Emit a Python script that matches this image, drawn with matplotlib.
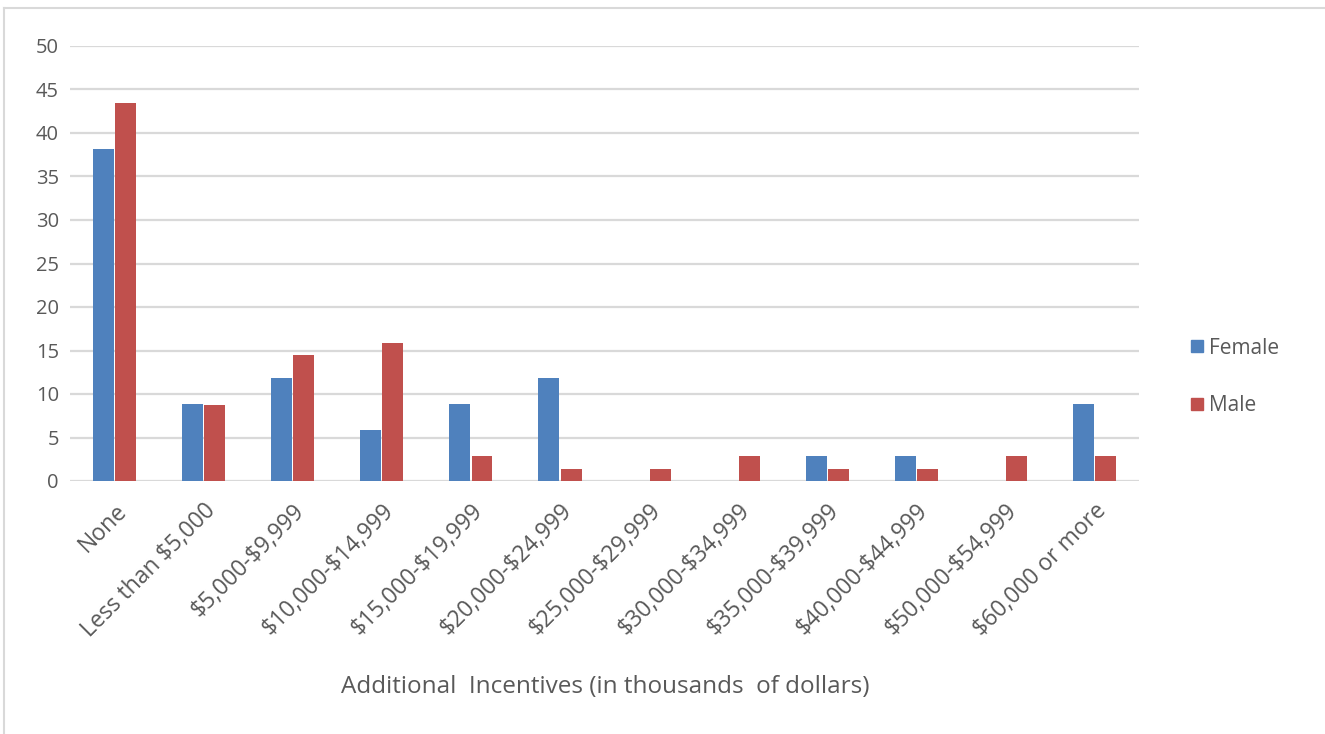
import matplotlib
matplotlib.use("Agg")
import matplotlib.pyplot as plt
import numpy as np
from matplotlib.lines import Line2D

categories = ["None", "Less than $5,000", "$5,000-$9,999", "$10,000-$14,999",
              "$15,000-$19,999", "$20,000-$24,999", "$25,000-$29,999",
              "$30,000-$34,999", "$35,000-$39,999", "$40,000-$44,999",
              "$50,000-$54,999", "$60,000 or more"]
female = [38.2, 8.8, 11.8, 5.9, 8.8, 11.8, 0, 0, 2.9, 2.9, 0, 8.8]
male = [43.5, 8.7, 14.5, 15.9, 2.9, 1.4, 1.4, 2.9, 1.4, 1.4, 2.9, 2.9]
yticks = [0, 5, 10, 15, 20, 25, 30, 35, 40, 45, 50]
xlabel = "Additional  Incentives (in thousands  of dollars)"

plt.rcParams['font.family'] = ['Open Sans', 'DejaVu Sans']
plt.rcParams['text.parse_math'] = False
txt = '#595959'
blue = '#4F81BD'
red = '#C0504D'

W, H = 1325, 734
fig = plt.figure(figsize=(W/100, H/100), dpi=100)
ax = fig.add_axes([70/W, 1-481/H, (1139-70)/W, (481-46)/H])

x = np.arange(len(categories))
bw = 0.235
ax.bar(x - 0.125, female, bw, color=blue, label='Female', zorder=3)
ax.bar(x + 0.125, male, bw, color=red, label='Male', zorder=3)

ax.set_xlim(-0.5, len(categories) - 0.5)
ax.set_ylim(0, 50)
ax.set_yticks(yticks)
ax.set_yticklabels([str(v) for v in yticks], fontsize=14.5, color=txt)
ax.yaxis.grid(True, color='#D9D9D9', linewidth=1.6, zorder=0)
ax.set_axisbelow(True)
ax.tick_params(axis='both', length=0)
ax.tick_params(axis='y', pad=8)
for s in ax.spines.values():
    s.set_visible(False)

ax.set_xticks(x)
ax.set_xticklabels(categories, rotation=45, ha='right', rotation_mode='anchor',
                   fontsize=16.5, color=txt)
ax.tick_params(axis='x', pad=13)

fig.text(605/W, 1-687/H, xlabel, ha='center', va='center', fontsize=17.5, color=txt)

handles = [Line2D([], [], marker='s', linestyle='none', markersize=8, color=blue),
           Line2D([], [], marker='s', linestyle='none', markersize=8, color=red)]
leg = fig.legend(handles, ['Female', 'Male'], loc='center left',
                 bbox_to_anchor=(1168/W, 1-377/H), frameon=False,
                 fontsize=15, labelspacing=1.75, handletextpad=0.05, handlelength=1.0)
for t in leg.get_texts():
    t.set_color(txt)

# light border at top and left
fig.add_artist(Line2D([4/W, 4/W], [0, 1-8/H], transform=fig.transFigure,
                      color='#D9D9D9', linewidth=1.5))
fig.add_artist(Line2D([4/W, 1], [1-8/H, 1-8/H], transform=fig.transFigure,
                      color='#D9D9D9', linewidth=1.5))

fig.savefig('out.png', dpi=100)
